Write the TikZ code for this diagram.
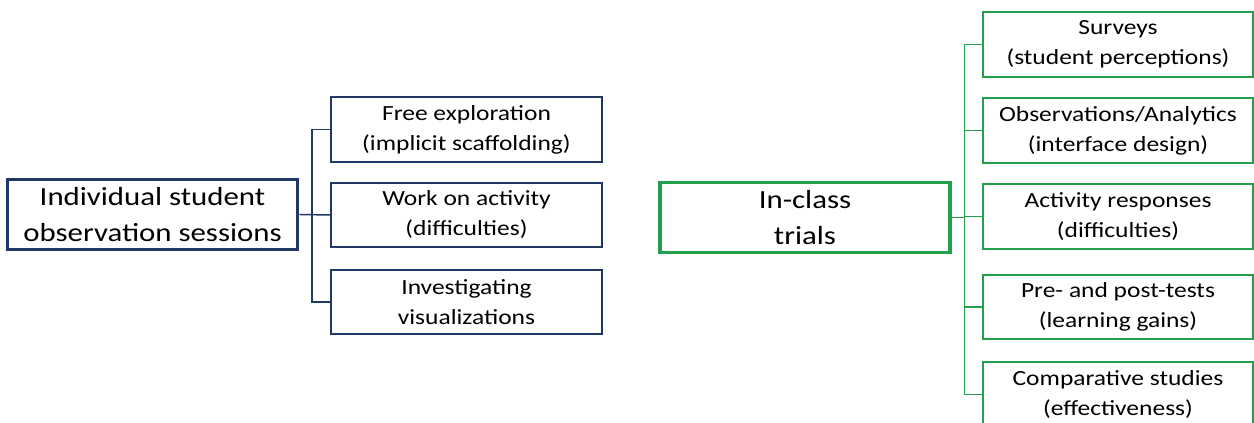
\documentclass[tikz,border=0pt]{standalone}
\usepackage{fontspec}
\setmainfont{Carlito}[FakeStretch=1.18]
\definecolor{navy}{HTML}{1F3864}
\definecolor{grn}{HTML}{22A04E}
\begin{document}
\begin{tikzpicture}[x=0.75pt,y=-0.75pt,
  rootbox/.style={line width=2.3pt, minimum width=218pt, minimum height=53pt, align=center, inner sep=0pt, font=\fontsize{19.6}{26.5}\selectfont},
  kidbox/.style={line width=1.5pt, minimum width=203pt, minimum height=48.5pt, align=center, inner sep=0pt, font=\fontsize{16.2}{22.5}\selectfont},
  navyl/.style={draw=navy},
  grnl/.style={draw=grn},
  conn/.style={line width=1.1pt}]
\useasboundingbox (0,0) rectangle (1254,423);
\clip (0,0) rectangle (1254,423);
% left tree
\node[rootbox,navyl] (L) at (152.5,214.5) {Individual student\\observation sessions};
\node[kidbox,navyl] (l1) at (466.5,129.5) {Free exploration\\(implicit scaffolding)};
\node[kidbox,navyl] (l2) at (466.5,215) {Work on activity\\(difficulties)};
\node[kidbox,navyl] (l3) at (466.5,302) {Investigating\\visualizations};
\coordinate (jl) at (312,214.5);
\draw[conn,navy] (L.east) -- (l2.west);
\draw[conn,navy] (l1.west) -- (l1.west -| jl) -- (l3.west -| jl) -- (l3.west);
% right tree
\node[rootbox,grnl,minimum width=217.5pt,font=\fontsize{19.6}{27}\selectfont] (R) at (805,217.5) {In-class\\trials};
\node[kidbox,grnl,minimum width=202.5pt] (r1) at (1118,44.5) {Surveys\\(student perceptions)};
\node[kidbox,grnl,minimum width=202.5pt] (r2) at (1118,130.5) {Observations/Analytics\\(interface design)};
\node[kidbox,grnl,minimum width=202.5pt] (r3) at (1118,216.5) {Activity responses\\(difficulties)};
\node[kidbox,grnl,minimum width=202.5pt] (r4) at (1118,307) {Pre- and post-tests\\(learning gains)};
\node[kidbox,grnl,minimum width=202.5pt] (r5) at (1118,394.5) {Comparative studies\\(effectiveness)};
\coordinate (jr) at (964.5,218);
\draw[conn,grn] (R.east) -- (R.east -| jr);
\draw[conn,grn] (r1.west) -- (r1.west -| jr) -- (r5.west -| jr) -- (r5.west);
\draw[conn,grn] (r2.west) -- (r2.west -| jr);
\draw[conn,grn] (r3.west) -- (r3.west -| jr);
\draw[conn,grn] (r4.west) -- (r4.west -| jr);
\end{tikzpicture}
\end{document}
